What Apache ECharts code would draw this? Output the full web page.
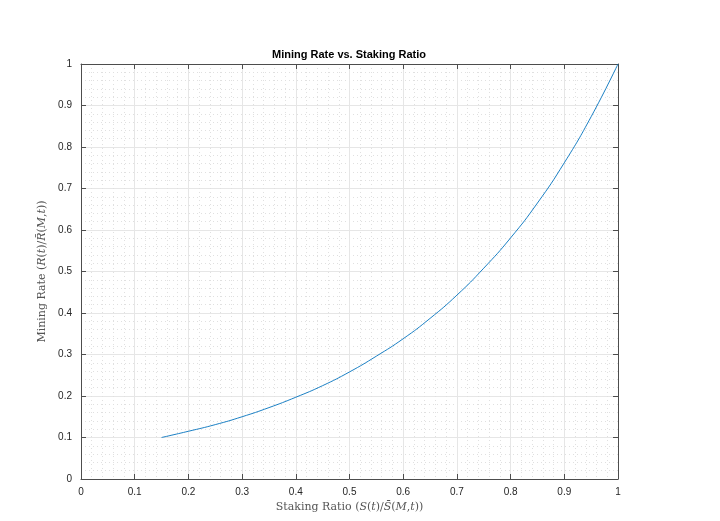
<!DOCTYPE html>
<html><head><meta charset="utf-8">
<script src="https://cdn.jsdelivr.net/npm/echarts@6/dist/echarts.min.js"></script>
<style>html,body{margin:0;padding:0;background:#fff}#c{width:720px;height:521px}</style>
</head><body><div id="c"></div>
<script>
const stakingRatio = [0.15, 0.2, 0.25, 0.3, 0.35, 0.4, 0.45, 0.5, 0.55, 0.6, 0.65, 0.7, 0.75, 0.8, 0.85, 0.9, 0.95, 1.0];
const miningRate   = [0.100, 0.115, 0.131, 0.150, 0.172, 0.197, 0.225, 0.258, 0.296, 0.338, 0.387, 0.443, 0.508, 0.581, 0.665, 0.762, 0.873, 1.0];
const chartTitle = 'Mining Rate vs. Staking Ratio';
const xName = 'Staking Ratio ({i|S}({i|t})/{i|S\u0304}({i|M},{i|t}))';
const yName = 'Mining Rate ({i|R}({i|t})/{i|R\u0304}({i|M},{i|t}))';

const axisCol = '#4d4d4d';
const labelStyle = {color: '#262626', fontSize: 10, fontFamily: 'Liberation Sans, Arial, sans-serif'};
const fmt = v => (v === 0 ? '0' : (v === 1 ? '1' : String(+v.toFixed(1))));
const serif = 'DejaVu Serif, Liberation Serif, serif';
const nameStyle = {color: '#555', fontSize: 11, fontFamily: serif,
  rich: {i: {fontStyle: 'italic', color: '#555', fontSize: 11, fontFamily: serif}}};
function mkAxis(pos, main) {
  return {
    type: 'value', position: pos, min: 0, max: 1, interval: 0.1, splitNumber: 10,
    axisLine: {show: true, onZero: false, lineStyle: {color: axisCol, width: 1}},
    axisTick: {show: true, inside: true, length: 5, lineStyle: {color: axisCol}},
    minorTick: {show: false, splitNumber: 5},
    axisLabel: main ? Object.assign({show: true, formatter: fmt, margin: 8, showMinLabel: true, showMaxLabel: true}, labelStyle) : {show: false},
    splitLine: {show: main, lineStyle: {color: '#e6e6e6', width: 1}},
    minorSplitLine: {show: main, lineStyle: {color: '#e0e0e0', width: 1, type: [1, 3]}}
  };
}
const xMain = mkAxis('bottom', true);
xMain.name = xName; xMain.nameLocation = 'middle'; xMain.nameGap = 23;
xMain.nameTextStyle = nameStyle;
const yMain = mkAxis('left', true);
yMain.name = yName; yMain.nameLocation = 'middle'; yMain.nameGap = 24;
yMain.nameTextStyle = nameStyle;
yMain.axisLabel.margin = 9;

const chart = echarts.init(document.getElementById('c'), null, {renderer: 'canvas'});
chart.setOption({
  animation: false,
  backgroundColor: '#fff',
  title: {text: chartTitle, left: 272, top: 49, padding: 0,
    textStyle: {fontSize: 11, fontWeight: 'bold', color: '#000', fontFamily: 'Liberation Sans, Arial, sans-serif'}},
  grid: {left: 81, right: 102, top: 64, bottom: 42, containLabel: false},
  xAxis: [xMain, mkAxis('top', false)],
  yAxis: [yMain, mkAxis('right', false)],
  series: [{
    type: 'line', xAxisIndex: 0, yAxisIndex: 0, showSymbol: false, smooth: true,
    data: stakingRatio.map((s, i) => [s, miningRate[i]]),
    lineStyle: {color: '#0072BD', width: 0.9}
  }]
});
</script></body></html>
